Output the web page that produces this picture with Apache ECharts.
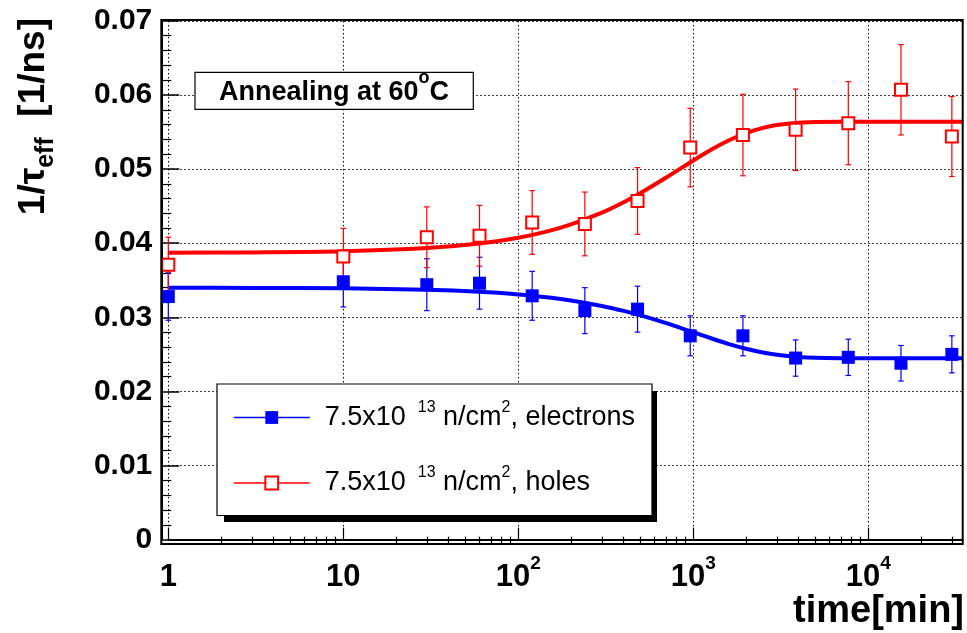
<!DOCTYPE html>
<html>
<head>
<meta charset="utf-8">
<script src="https://cdn.jsdelivr.net/npm/echarts@6/dist/echarts.min.js"></script>
<style>
  html, body { margin: 0; padding: 0; background: #fff; }
  #chart { width: 967px; height: 633px; }
</style>
</head>
<body>
<div id="chart"></div>
<script>
// Annealing time [min] of each measurement
const times = [1, 10, 30, 60, 120, 240, 480, 960, 1920, 3840, 7680, 15360, 30000];

// 1/tau_eff [1/ns] for electrons and holes, with their errors
const electronRate = [0.0328, 0.0348, 0.0344, 0.0346, 0.0329, 0.0309, 0.0311, 0.0275, 0.0275, 0.0245, 0.0246, 0.0238, 0.0250];
const electronErr  = [0.0032, 0.0034, 0.0035, 0.0035, 0.0033, 0.0031, 0.0031, 0.0027, 0.0027, 0.00245, 0.00245, 0.0024, 0.0025];
const holeRate     = [0.0371, 0.0382, 0.0408, 0.0410, 0.0428, 0.0426, 0.0457, 0.0529, 0.0546, 0.0553, 0.0562, 0.0607, 0.0544];
const holeErr      = [0.0037, 0.0038, 0.0041, 0.0041, 0.0043, 0.0043, 0.0045, 0.0053, 0.0055, 0.0055, 0.0056, 0.0061, 0.0054];

// Fitted annealing curves, sampled along the time axis
const fitTimes    = [1, 3, 10, 30, 60, 100, 150, 200, 300, 400, 500, 700, 1000, 1300, 1600, 2000, 2500, 3000, 4000, 5000, 7000, 10000, 34600];
const electronFit = [0.03400, 0.03397, 0.03391, 0.03372, 0.03345, 0.03309, 0.03267, 0.03227, 0.03153, 0.03086, 0.03025, 0.02921, 0.02798, 0.02707, 0.02639, 0.02576, 0.02525, 0.02495, 0.02465, 0.02453, 0.02448, 0.02447, 0.02447];
const holeFit     = [0.03870, 0.03876, 0.03891, 0.03934, 0.03995, 0.04073, 0.04166, 0.04253, 0.04412, 0.04553, 0.04678, 0.04886, 0.05117, 0.05277, 0.05389, 0.05486, 0.05556, 0.05594, 0.05627, 0.05636, 0.05640, 0.05640, 0.05640];

// Axis tick labels
const yTickLabels = ['0', '0.01', '0.02', '0.03', '0.04', '0.05', '0.06', '0.07'];
const xTickLabels = [['1', ''], ['10', ''], ['10', '2'], ['10', '3'], ['10', '4']];
const xMinorTicks = [];
for (let d = 1; d <= 10000; d *= 10) {
  for (let k = 2; k <= 9; k++) {
    if (k * d < 34600) xMinorTicks.push(k * d);
  }
}

const FONT = '"Liberation Sans", Arial, Helvetica, sans-serif';
const BLUE = '#0000ff';
const RED = '#ff0000';

const legendNames = {
  electrons: '{f|7.5x10 }{s| 13}{m| n/cm}{s|2}{m|, electrons}',
  holes: '{f|7.5x10 }{s| 13}{m| n/cm}{s|2}{m|, holes}'
};

function errorData(vals, errs) {
  return times.map((t, i) => [t, vals[i] - errs[i], vals[i] + errs[i]]);
}

function errorBars(color) {
  return function (params, api) {
    const x = api.value(0);
    const top = api.coord([x, api.value(2)]);
    const bot = api.coord([x, api.value(1)]);
    const cap = 2.8;
    const st = { stroke: color, lineWidth: 1.2 };
    return {
      type: 'group',
      children: [
        { type: 'line', shape: { x1: top[0], y1: top[1], x2: bot[0], y2: bot[1] }, style: st },
        { type: 'line', shape: { x1: top[0] - cap, y1: top[1], x2: top[0] + cap, y2: top[1] }, style: st },
        { type: 'line', shape: { x1: bot[0] - cap, y1: bot[1], x2: bot[0] + cap, y2: bot[1] }, style: st }
      ]
    };
  };
}

const legendText = {
  fontFamily: FONT,
  color: '#000',
  rich: {
    f: { fontFamily: FONT, fontSize: 27, lineHeight: 36, padding: [0, 0, 0, 10], color: '#000' },
    m: { fontFamily: FONT, fontSize: 27, lineHeight: 36, color: '#000' },
    s: { fontFamily: FONT, fontSize: 16, lineHeight: 16, verticalAlign: 'top', color: '#000' }
  }
};

const gridDots = { color: '#000', width: 1, type: [1.5, 2.5] };

const option = {
  animation: false,
  backgroundColor: '#fff',
  grid: { left: 168.3, right: 4.3, top: 20.9, bottom: 93.4 },
  xAxis: [
    {
      type: 'log', logBase: 10, min: 1, max: 34600, offset: 4,
      axisLine: { show: true, lineStyle: { color: '#000', width: 2 } },
      axisTick: { show: true, inside: true, length: 12, lineStyle: { color: '#000', width: 1.2 } },
      splitLine: { show: true, lineStyle: gridDots },
      axisLabel: {
        margin: 11, showMaxLabel: false, color: '#000',
        formatter: function (v) {
          const lab = xTickLabels[Math.round(Math.log10(v))];
          if (!lab) return '';
          return lab[1] ? '{b|' + lab[0] + '}{s|' + lab[1] + '}' : '{b|' + lab[0] + '}';
        },
        rich: {
          b: { fontFamily: FONT, fontSize: 31, fontWeight: 'bold', lineHeight: 45, color: '#000' },
          s: { fontFamily: FONT, fontSize: 19, fontWeight: 'bold', lineHeight: 19, verticalAlign: 'top', color: '#000' }
        }
      }
    },
    {
      type: 'log', logBase: 10, min: 1, max: 34600, offset: 4, position: 'bottom',
      axisLine: { show: false },
      axisTick: { show: true, inside: true, length: 7, customValues: xMinorTicks, lineStyle: { color: '#000', width: 1.2 } },
      axisLabel: { show: false },
      splitLine: { show: false }
    }
  ],
  yAxis: {
    type: 'value', min: 0, max: 0.07, interval: 0.01, offset: 7,
    axisLine: { show: true, lineStyle: { color: '#000', width: 2 } },
    axisTick: { show: true, inside: true, length: 18, lineStyle: { color: '#000', width: 1.5 } },
    minorTick: { show: true, splitNumber: 5, length: 10, lineStyle: { color: '#000', width: 1.2 } },
    splitLine: { show: true, lineStyle: gridDots },
    axisLabel: {
      margin: 9, color: '#000', fontFamily: FONT, fontSize: 30, fontWeight: 'bold',
      formatter: function (v) { return yTickLabels[Math.round(v / 0.01)]; }
    }
  },
  legend: [
    {
      data: ['electrons'], orient: 'vertical', left: 233, top: 399.5, padding: 0,
      itemWidth: 76, itemHeight: 16, selectedMode: false, z: 5,
      lineStyle: { width: 1.5, opacity: 1, type: 'solid' },
      formatter: function (n) { return legendNames[n]; },
      textStyle: legendText
    },
    {
      data: ['holes'], orient: 'vertical', left: 233, top: 465, padding: 0,
      itemWidth: 76, itemHeight: 16, selectedMode: false, z: 5,
      lineStyle: { width: 1.5, opacity: 1, type: 'solid' },
      formatter: function (n) { return legendNames[n]; },
      textStyle: legendText
    }
  ],
  graphic: [
    // legend box with its drop shadow
    { type: 'rect', z: 3, shape: { x: 224, y: 391, width: 433, height: 131 }, style: { fill: '#000' }, silent: true },
    { type: 'rect', z: 4, shape: { x: 217, y: 384, width: 435, height: 131.5 }, style: { fill: '#fff', stroke: '#000', lineWidth: 1.2 }, silent: true },
    // annotation label
    { type: 'rect', z: 4, shape: { x: 195, y: 72.3, width: 278.3, height: 37 }, style: { fill: '#fff', stroke: '#000', lineWidth: 1.2 }, silent: true },
    {
      type: 'text', z: 5, x: 334, y: 92.7, silent: true,
      style: {
        text: '{m|Annealing at 60}{o|o}{m|C}', align: 'center', verticalAlign: 'middle',
        rich: {
          m: { fontFamily: FONT, fontSize: 27, fontWeight: 'bold', lineHeight: 47, fill: '#000' },
          o: { fontFamily: FONT, fontSize: 18, fontWeight: 'bold', lineHeight: 18, verticalAlign: 'top', fill: '#000' }
        }
      }
    },
    // y-axis title
    {
      type: 'text', z: 5, x: 34, y: 18, rotation: Math.PI / 2, silent: true,
      style: {
        text: '{m|1/τ}{b|eff}{m|  [1/ns]}', align: 'right', verticalAlign: 'middle',
        rich: {
          m: { fontFamily: FONT, fontSize: 37, fontWeight: 'bold', lineHeight: 50, fill: '#000' },
          b: { fontFamily: FONT, fontSize: 25, fontWeight: 'bold', lineHeight: 25, verticalAlign: 'bottom', fill: '#000' }
        }
      }
    },
    // x-axis title
    {
      type: 'text', z: 5, x: 964, y: 593, silent: true,
      style: { text: 'time[min]', align: 'right', verticalAlign: 'top', fontFamily: FONT, fontSize: 38, fontWeight: 'bold', fill: '#000' }
    },
    // plot frame
    { type: 'rect', z: 10, shape: { x: 161.3, y: 20, width: 801.4, height: 524 }, style: { fill: 'none', stroke: '#000', lineWidth: 2 }, silent: true }
  ],
  series: [
    {
      name: 'hole fit', type: 'line', xAxisIndex: 0, smooth: 0.3, showSymbol: false, z: 2,
      data: fitTimes.map((t, i) => [t, holeFit[i]]),
      lineStyle: { color: RED, width: 4 }, itemStyle: { color: RED }
    },
    {
      name: 'electron fit', type: 'line', xAxisIndex: 0, smooth: 0.3, showSymbol: false, z: 2,
      data: fitTimes.map((t, i) => [t, electronFit[i]]),
      lineStyle: { color: BLUE, width: 4 }, itemStyle: { color: BLUE }
    },
    {
      name: 'electrons err', type: 'custom', xAxisIndex: 0, z: 3,
      renderItem: errorBars(BLUE), data: errorData(electronRate, electronErr)
    },
    {
      name: 'holes err', type: 'custom', xAxisIndex: 0, z: 3,
      renderItem: errorBars(RED), data: errorData(holeRate, holeErr)
    },
    {
      name: 'electrons', type: 'line', xAxisIndex: 0, z: 4,
      data: times.map((t, i) => [t, electronRate[i]]),
      symbol: 'rect', symbolSize: 13, showAllSymbol: true,
      lineStyle: { color: BLUE, width: 0, opacity: 0 },
      itemStyle: { color: BLUE }
    },
    {
      name: 'holes', type: 'line', xAxisIndex: 0, z: 4,
      data: times.map((t, i) => [t, holeRate[i]]),
      symbol: 'emptyRect', symbolSize: 12, showAllSymbol: true,
      lineStyle: { color: RED, width: 0, opacity: 0 },
      itemStyle: { color: RED, borderColor: RED, borderWidth: 1.5 }
    }
  ]
};

const chart = echarts.init(document.getElementById('chart'), null, { renderer: 'canvas' });
chart.setOption(option);
</script>
</body>
</html>
